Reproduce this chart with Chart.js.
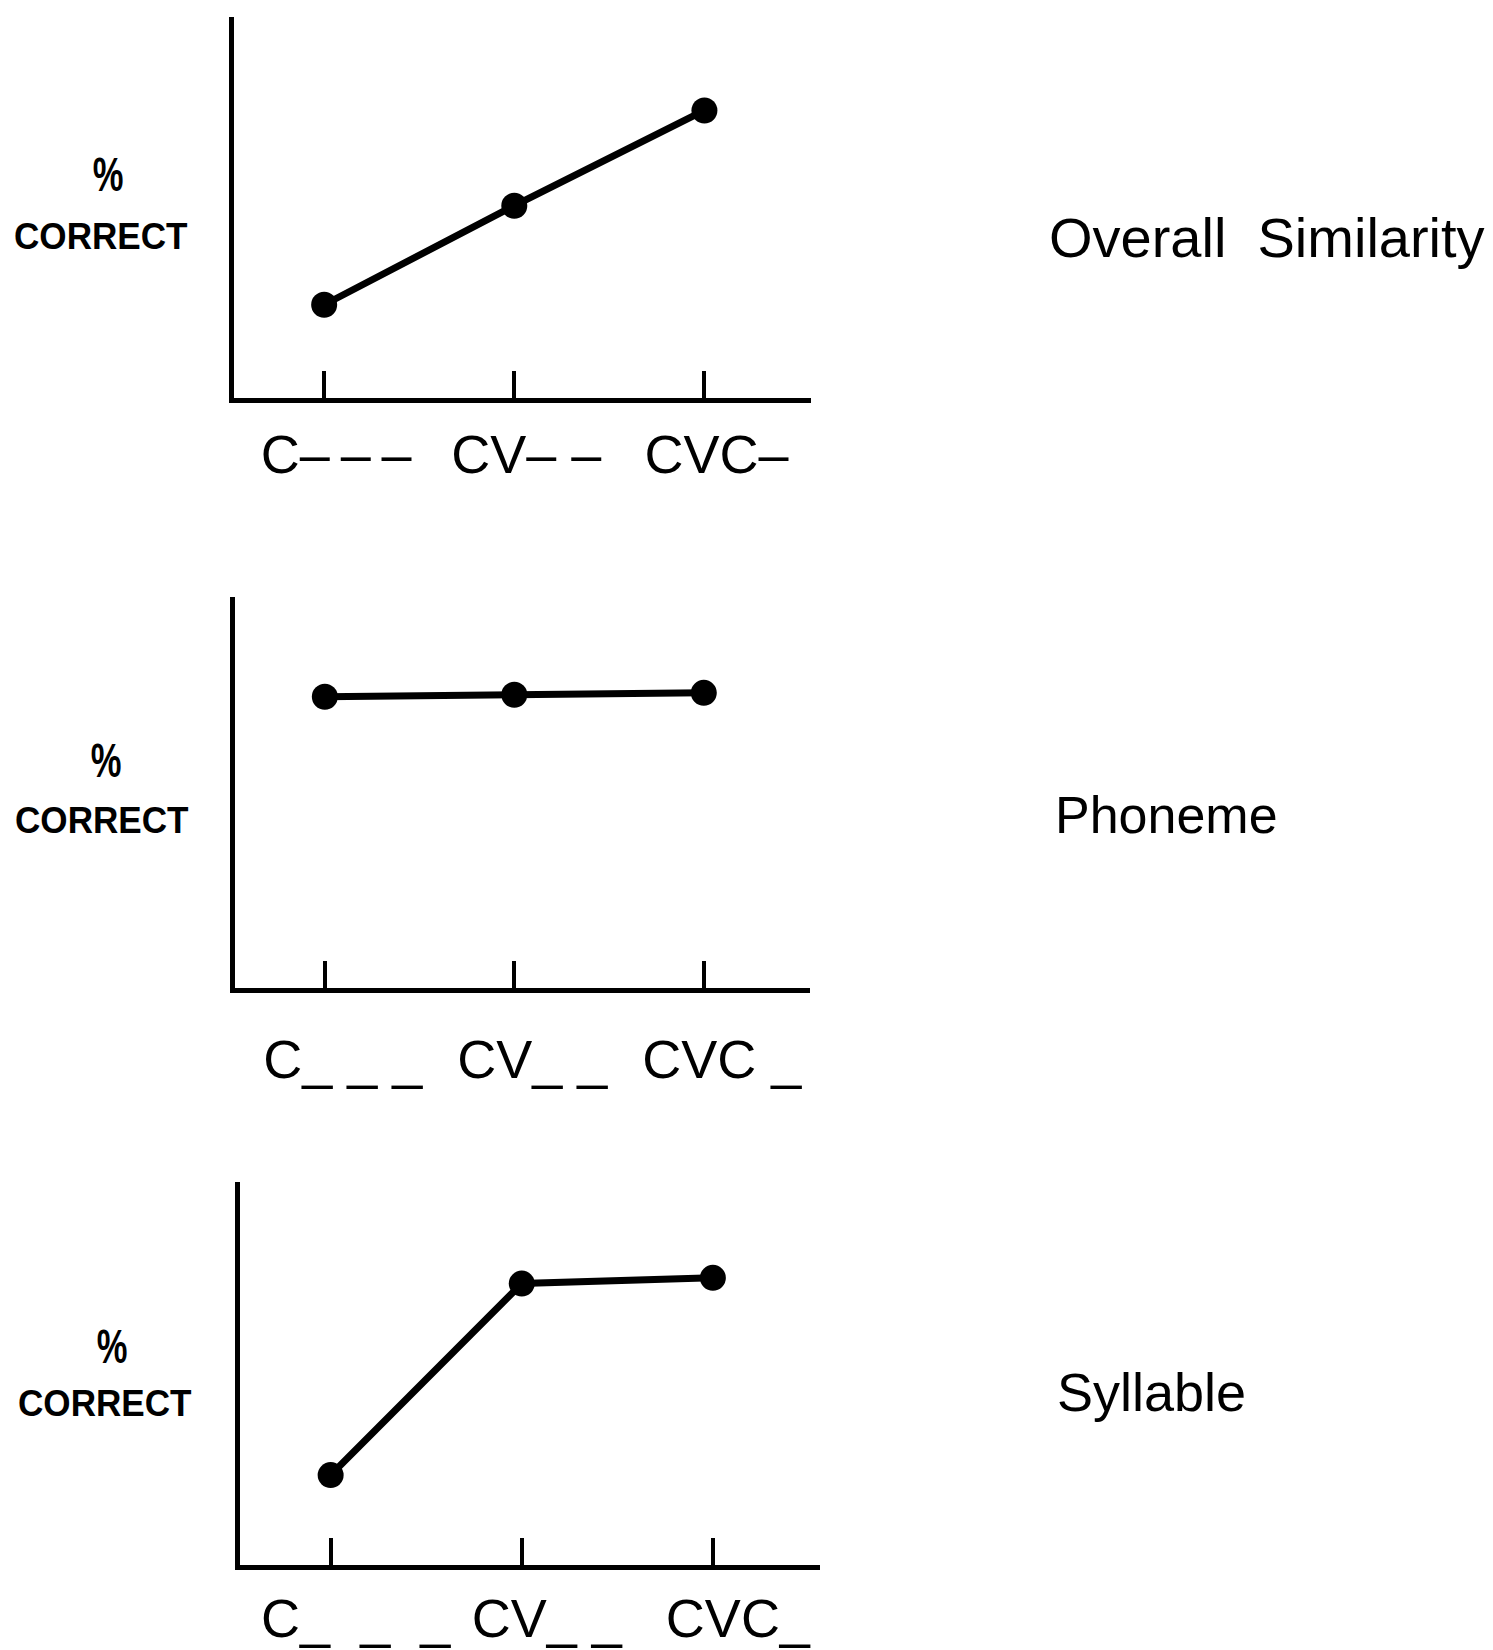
<!DOCTYPE html>
<html>
<head>
<meta charset="utf-8">
<script src="https://cdn.jsdelivr.net/npm/chart.js@4.4.1/dist/chart.umd.min.js"></script>
<style>
  html, body { margin: 0; padding: 0; background: #fff; }
  body { width: 1493px; height: 1650px; position: relative; overflow: hidden;
         font-family: "Liberation Sans", Arial, sans-serif; color: #000; }
  .box { position: absolute; }
  .txt { position: absolute; line-height: 1; white-space: pre; }
  .pct { width: 60px; text-align: center; transform: scaleX(0.72); font-size: 48px; font-weight: bold; }
  .corr { font-weight: bold; font-size: 36px; transform-origin: left top; transform: scaleX(0.975); }
  .name { font-size: 54px; }
</style>
</head>
<body>
<div class="txt pct" style="left:78px;top:151px;">%</div>
<div class="txt corr" style="left:14px;top:219px;">CORRECT</div>
<div class="txt pct" style="left:76px;top:737px;">%</div>
<div class="txt corr" style="left:15px;top:803px;">CORRECT</div>
<div class="txt pct" style="left:82px;top:1323px;">%</div>
<div class="txt corr" style="left:18px;top:1386px;">CORRECT</div>

<div class="txt name" style="left:1049px;top:210px;font-size:56px;">Overall  Similarity</div>
<div class="txt name" style="left:1055px;top:789px;font-size:52px;">Phoneme</div>
<div class="txt name" style="left:1057px;top:1365px;">Syllable</div>

<div class="box" id="b1"><canvas id="c1"></canvas></div>
<div class="box" id="b2"><canvas id="c2"></canvas></div>
<div class="box" id="b3"><canvas id="c3"></canvas></div>

<script>
// categories (x tick labels) for each panel
const labelsOverall = ["C\u2013\u2009\u2013\u2009\u2013", "CV\u2013 \u2013", "CVC\u2013"];
const labelsPhoneme = ["C_ _ _", "CV_ _", "CVC _"];
const labelsSyllable = ["C_  _  _", "CV_ _", "CVC_"];

// % correct (no scale printed, read relative to axis height 0-100)
const overallValues = [25, 51, 76];
const phonemeValues = [75, 75.5, 76];
const syllableValues = [24, 74, 75.5];

// plot area of each panel in page pixels
const panels = [
  { id: "1", labels: labelsOverall, values: overallValues, left: 228, top: 16, right: 812, bottom: 400, lblPad: 55, lblShift: 12 },
  { id: "2", labels: labelsPhoneme, values: phonemeValues, left: 229, top: 596, right: 811, bottom: 990, lblPad: 70, lblShift: 18 },
  { id: "3", labels: labelsSyllable, values: syllableValues, left: 234, top: 1181, right: 821, bottom: 1567, lblPad: 52, lblShift: 25 },
];

const PAD = 10;
const XH = 110; // height reserved for x labels

panels.forEach((p) => {
  const box = document.getElementById("b" + p.id);
  box.style.left = (p.left - PAD) + "px";
  box.style.top = (p.top - PAD) + "px";
  box.style.width = (p.right - p.left + 2 * PAD) + "px";
  box.style.height = (p.bottom - p.top + PAD + XH) + "px";

  new Chart(document.getElementById("c" + p.id), {
    type: "line",
    data: {
      datasets: [
        {
          data: p.values.map((v, i) => ({ x: i, y: v })),
          borderColor: "#000",
          backgroundColor: "#000",
          borderWidth: 7,
          pointRadius: 13,
          pointBorderWidth: 0,
          tension: 0,
        },
      ],
    },
    options: {
      responsive: true,
      maintainAspectRatio: false,
      animation: false,
      layout: { padding: { left: PAD, right: PAD, top: PAD, bottom: 0 } },
      plugins: { legend: { display: false }, tooltip: { enabled: false } },
      scales: {
        x: {
          type: "linear",
          min: -0.49,
          max: 2.55,
          afterBuildTicks: (scale) => {
            scale.ticks = p.labels.map((_, i) => ({ value: i }));
          },
          grid: {
            drawOnChartArea: false,
            drawTicks: true,
            tickLength: -29,
            color: "#000",
            lineWidth: 4,
          },
          border: { display: true, color: "#000", width: 5 },
          ticks: {
            color: "#000",
            font: { family: "'Liberation Sans', Arial, sans-serif", size: 54 },
            padding: p.lblPad,
            labelOffset: p.lblShift,
            maxRotation: 0,
            autoSkip: false,
            callback: (v) => p.labels[v],
          },
          afterFit: (scale) => {
            scale.height = XH;
            scale.paddingLeft = 0;
            scale.paddingRight = 0;
          },
        },
        y: {
          min: 0,
          max: 100,
          grid: { drawOnChartArea: false, drawTicks: false },
          border: { display: true, color: "#000", width: 5 },
          ticks: { display: false },
          afterFit: (scale) => { scale.width = 0; },
        },
      },
    },
  });
});
</script>
</body>
</html>
